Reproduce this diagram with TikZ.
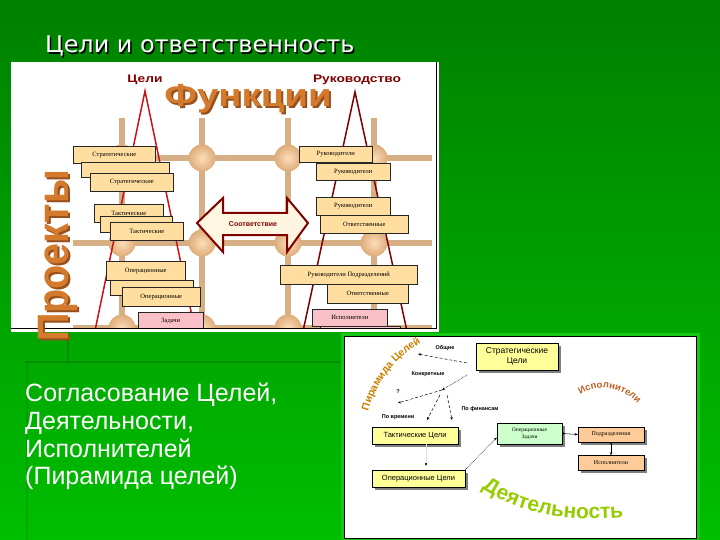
\documentclass[tikz,border=0pt]{standalone}
\usepackage{fontspec}
\setmainfont{Liberation Sans}
\newfontfamily\boxfont{Liberation Serif}
\newfontfamily\headfont{DejaVu Sans}
\usetikzlibrary{positioning,calc,arrows.meta,shadows,decorations.text}

\definecolor{slidedark}{RGB}{0,128,0}
\definecolor{slidelight}{RGB}{0,190,0}
\definecolor{slideline}{RGB}{0,95,0}
\definecolor{framegreen}{RGB}{20,200,20}
\definecolor{pipetan}{RGB}{214,176,132}
\definecolor{jointin}{RGB}{252,222,185}
\definecolor{jointout}{RGB}{222,172,122}
\definecolor{levelfill}{RGB}{255,222,160}
\definecolor{pinkfill}{RGB}{250,192,200}
\definecolor{darkred}{RGB}{128,0,0}
\definecolor{pyrred}{RGB}{200,20,25}
\definecolor{funcorange}{RGB}{212,122,44}
\definecolor{funcshade}{RGB}{150,80,30}
\definecolor{arrowfill}{RGB}{255,246,226}
\definecolor{goalyellow}{RGB}{255,255,153}
\definecolor{taskgreen}{RGB}{204,255,204}
\definecolor{unitorange}{RGB}{255,204,153}
\definecolor{actgreen}{RGB}{150,204,0}
\definecolor{pyrtext}{RGB}{204,128,0}
\definecolor{exectext}{RGB}{192,96,32}

\tikzset{
  pipe/.style={line width=6pt, draw=pipetan},
  joint/.style={circle, minimum size=27pt, inner sep=0pt, inner color=jointin, outer color=jointout},
  pyrline/.style={line width=1.5pt},
  levelbox/.style={draw=black!85, fill=levelfill, line width=.6pt, anchor=north west,
    inner sep=0pt, font=\boxfont\fontsize{6.5}{7}\selectfont},
  pinkbox/.style={levelbox, fill=pinkfill},
  headlabel/.style={text=darkred, font=\bfseries\fontsize{11}{11}\selectfont},
  bigword/.style={font=\bfseries\fontsize{32}{32}\selectfont, inner sep=0pt},
  goalbox/.style={draw=black, fill=goalyellow, line width=.4pt, align=center, inner sep=1pt,
    drop shadow={shadow xshift=2.5pt, shadow yshift=-2.5pt, fill=black!50, opacity=1},
    font=\fontsize{7.5}{8.5}\selectfont},
  taskbox/.style={goalbox, fill=taskgreen, font=\boxfont\fontsize{5.5}{7}\selectfont},
  unitbox/.style={goalbox, fill=unitorange, minimum width=66pt, minimum height=15pt,
    font=\boxfont\fontsize{6}{7}\selectfont},
  tinylabel/.style={font=\bfseries\fontsize{5.5}{6}\selectfont, inner sep=0pt},
  flow/.style={densely dashed, line width=.5pt, -{Stealth[length=3pt, width=2.5pt]}},
  dotflow/.style={densely dotted, line width=.6pt, -{Stealth[length=3pt, width=2.5pt]}},
  linkflow/.style={line width=.5pt, {Circle[length=2pt]}-{Stealth[length=3pt, width=2.5pt]}},
  slidetext/.style={text=white, align=left, anchor=north west, inner sep=0pt,
    font=\fontsize{25}{27.7}\selectfont},
  deco/.style={draw=slideline, line width=2pt, opacity=.35}
}

\begin{document}
\begin{tikzpicture}[x=1pt,y=-1pt]
  \useasboundingbox (0,0) rectangle (720,540);
  % slide
  \shade[top color=slidedark, bottom color=slidelight] (0,0) rectangle (720,540);
  \draw[deco] (68,332) -- (68,362);
  \draw[deco] (25,362) -- (345,362);
  \draw[deco, opacity=.2] (27,362) -- (27,540);
  \node[anchor=base west, inner sep=0pt, text=black, font=\headfont\fontsize{23}{23}\selectfont]
    (titleshadow) at (46.5,54.5) {\scalebox{1.04}[1]{Цели и ответственность}};
  \node[anchor=base west, inner sep=0pt, text=white, font=\headfont\fontsize{23}{23}\selectfont]
    (title) at (45,53) {\scalebox{1.04}[1]{Цели и ответственность}};

  % upper picture
  \fill[white] (11,62) rectangle (439,332);
  \begin{scope}
    \clip (11,62) rectangle (436,328);
    \foreach \y in {158,243,328}
      \draw[pipe] (73,\y) -- (432,\y);
    \foreach \x in {122,202,288,374}
      \draw[pipe] (\x,118) -- (\x,335);
    \foreach \x in {122,202,288,374}
      \foreach \y in {158,243,328}
        \node[joint] at (\x,\y) {};

    \coordinate (lapex) at (145,91);
    \coordinate (lleft) at (92,345);
    \coordinate (lright) at (198,345);
    \coordinate (rapex) at (355,92);
    \coordinate (rleft) at (300,345);
    \coordinate (rright) at (410,345);
    \draw[pyrline, draw=pyrred] (lleft) -- (lapex) -- (lright);
    \draw[pyrline, draw=darkred] (rleft) -- (rapex) -- (rright);

    \node[headlabel] (goals) at (145,80) {\scalebox{1.25}[1]{Цели}};
    \node[headlabel] (lead) at (357,80) {\scalebox{1.25}[1]{Руководство}};
    \node[bigword, text=funcshade, anchor=base] (funcshadow) at (250,109) {\scalebox{1.2}[1]{Функции}};
    \node[bigword, text=funcorange, anchor=base] (func) at (248,107) {\scalebox{1.2}[1]{Функции}};

    % goal levels
    \node[levelbox, minimum width=82pt, minimum height=17pt] (strat1) at (73,146) {Стратегические};
    \node[levelbox, minimum width=88pt, minimum height=15pt] (strat2) at (81,162) {};
    \node[levelbox, minimum width=83pt, minimum height=18pt] (strat3) at (90,173) {Стратегические};
    \node[levelbox, minimum width=69pt, minimum height=18pt] (tact1) at (94,204) {Тактические};
    \node[levelbox, minimum width=72pt, minimum height=16pt] (tact2) at (100,216) {};
    \node[levelbox, minimum width=73pt, minimum height=18pt] (tact3) at (110,222) {Тактические};
    \node[levelbox, minimum width=79pt, minimum height=19pt] (oper1) at (106,261) {Операционные};
    \node[levelbox, minimum width=83pt, minimum height=15pt] (oper2) at (110,280) {};
    \node[levelbox, minimum width=78pt, minimum height=19pt] (oper3) at (122,287) {Операционные};
    \node[pinkbox, minimum width=65pt, minimum height=18pt] (task1) at (138,312) {Задачи};
    \node[pinkbox, minimum width=64pt, minimum height=12pt] (task2) at (149,328) {};

    % responsibility levels
    \node[levelbox, minimum width=73pt, minimum height=16pt] (head1) at (299,146) {Руководители};
    \node[levelbox, minimum width=74pt, minimum height=17pt] (head2) at (316,163) {Руководители};
    \node[levelbox, minimum width=74pt, minimum height=18pt] (head3) at (316,197) {Руководители};
    \node[levelbox, minimum width=88pt, minimum height=18pt] (resp1) at (320,215) {Ответственные};
    \node[levelbox, minimum width=137pt, minimum height=19pt] (dept) at (280,265) {Руководители Подразделений};
    \node[levelbox, minimum width=81pt, minimum height=19pt] (resp2) at (327,284) {Ответственные};
    \node[pinkbox, minimum width=75pt, minimum height=17pt] (exec1) at (312,309) {Исполнители};
    \node[pinkbox, minimum width=80pt, minimum height=12pt] (exec2) at (320,326) {};

    % match arrow
    \draw[draw=darkred, fill=arrowfill, line width=2pt, line join=miter]
      (197,223) -- (223,198) -- (223,213) -- (287,213) -- (287,198) -- (308,223)
      -- (287,252) -- (287,235) -- (223,235) -- (223,252) -- cycle;
    \node[text=darkred, font=\bfseries\fontsize{7}{7}\selectfont] (match) at (253,224) {Соответствие};
  \end{scope}
  \draw[black, line width=.8pt] (436,62) -- (436,328) -- (11,328);
  \node[bigword, text=funcshade, rotate=90, anchor=base, font=\bfseries\fontsize{44}{44}\selectfont]
    (projshadow) at (70,258) {\scalebox{0.9}[1]{Проекты}};
  \node[bigword, text=funcorange, rotate=90, anchor=base, font=\bfseries\fontsize{44}{44}\selectfont]
    (proj) at (68,256) {\scalebox{0.9}[1]{Проекты}};

  % lower picture
  \fill[framegreen] (341,333) rectangle (700,541);
  \draw[black, fill=white, line width=.8pt] (344,336) rectangle (696,538);

  \node[goalbox, minimum width=82pt, minimum height=27pt, font=\fontsize{8.5}{9.5}\selectfont]
    (strat) at (517,356.5) {Стратегические\\Цели};
  \node[goalbox, minimum width=86pt, minimum height=17pt] (takt) at (415,435.5) {Тактические Цели};
  \node[goalbox, minimum width=93pt, minimum height=17pt] (oper) at (418.5,478.5) {Операционные Цели};
  \node[taskbox, minimum width=65pt, minimum height=21pt] (tasks) at (529.5,433.5) {Операционные\\Задачи};
  \node[unitbox] (units) at (611,434.5) {Подразделения};
  \node[unitbox, below=13pt of units] (execs) {Исполнители};

  \node[tinylabel] (general) at (445,348) {Общие};
  \node[tinylabel] (concrete) at (428,374) {Конкретные};
  \node[tinylabel] (quest) at (398,392) {?};
  \node[tinylabel] (bytime) at (398,417) {По времени};
  \node[tinylabel] (bymoney) at (480,409) {По финансам};

  \coordinate (stratout1) at (467,363);
  \coordinate (stratout2) at (467,375);
  \coordinate (genend) at (418,354);
  \coordinate (split) at (442,390);
  \coordinate (timeend) at (398,403);
  \coordinate (midend) at (427,420);
  \coordinate (moneyend) at (452,420);
  \draw[flow] (stratout1) -- (genend);
  \draw[dotflow] (stratout2) -- (split);
  \draw[flow] (split) -- (timeend);
  \draw[flow] ([xshift=-2pt, yshift=-5pt]split) -- (midend);
  \draw[flow] ([xshift=5pt, yshift=-5pt]split) -- (moneyend);
  \draw[draw=black!12, line width=.4pt, -{Stealth[length=3pt, width=2.5pt, color=black]}]
    ([xshift=11pt]takt.south) -- ([xshift=7.5pt, yshift=4pt]oper.north);
  \draw[dotflow] (oper.north east) -- ([yshift=-4pt]tasks.west);
  \draw[linkflow] (tasks.east) -- (units.west);
  \draw[linkflow] (units.south) -- (execs.north);

  \path[decorate, decoration={text along path, text align=center,
      text={|\color{pyrtext}\bfseries\fontsize{10.5}{10.5}\selectfont|Пирамида Целей}}]
    (366,421) .. controls (371,390) and (394,355) .. (430,338);
  \path[decorate, decoration={text along path, text align=center,
      text={|\color{exectext}\bfseries\fontsize{9.5}{9.5}\selectfont|Исполнители}}]
    (573,401) .. controls (592,382) and (622,382) .. (644,411);
  \path[decorate, decoration={text along path, text align=center,
      text={|\color{actgreen}\bfseries\fontsize{21}{21}\selectfont|Деятельность}}]
    (478,486) .. controls (515,512) and (565,524) .. (628,517);

  \node[slidetext] (summary) at (25,383) {Согласование Целей,\\Деятельности,\\Исполнителей\\(Пирамида целей)};
\end{tikzpicture}
\end{document}
